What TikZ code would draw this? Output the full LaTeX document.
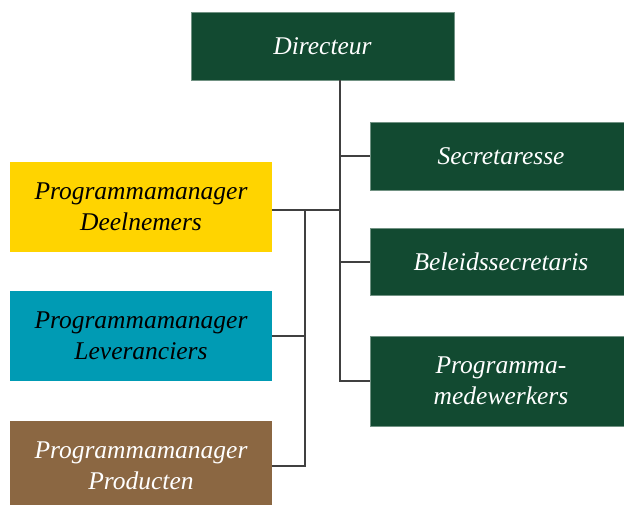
\documentclass[tikz,border=0pt]{standalone}
\usepackage{fontspec}
\setmainfont{Liberation Serif}
\usepackage{tikz}
\usetikzlibrary{positioning}
\definecolor{dirgreen}{HTML}{124A31}
\definecolor{pmyellow}{HTML}{FFD400}
\definecolor{pmteal}{HTML}{009BB4}
\definecolor{pmbrown}{HTML}{8B6742}
\tikzset{
  orgbox/.style={rectangle, minimum width=262pt, inner sep=0pt, align=center,
    font=\fontsize{25.5}{31}\selectfont\itshape},
  greenbox/.style={orgbox, fill=dirgreen, draw=dirgreen!60!white, line width=0.6pt, text=white},
  orgline/.style={draw=black!75, line width=1.4pt}
}

\begin{document}
\begin{tikzpicture}[x=1pt, y=-1pt]
            \clip (0,0) rectangle (624,504);
            \fill[white] (0,0) rectangle (624,504);
            % Top
            \node[greenbox, minimum width=263pt, minimum height=68pt] (dir) at (322.5,46) {Directeur};
            % Staff on the right
            \node[greenbox, minimum height=68pt] (sec) at (501,156) {Secretaresse};
            \node[greenbox, minimum height=67pt] (bel) at (501,262) {Beleidssecretaris};
            \node[greenbox, minimum height=90pt] (prm) at (501,381) {Programma-\\medewerkers};
            % Programme managers on the left
            \node[orgbox, fill=pmyellow, minimum height=90pt] (pmd) at (141,207) {Programmamanager\\Deelnemers};
            \node[orgbox, fill=pmteal, minimum height=90pt] (pml) at (141,336) {Programmamanager\\Leveranciers};
            \node[orgbox, fill=pmbrown, text=white, minimum height=90pt] (pmp) at (141,466) {Programmamanager\\Producten};
            % Lines
            \coordinate (trunk) at (340,80);
            \coordinate (fork) at (305,210);
            \draw[orgline] (trunk) |- (sec.west);
            \draw[orgline] (trunk) |- (bel.west);
            \draw[orgline] (trunk) |- (prm.west);
            \draw[orgline] (trunk) |- (pmd.east |- fork);
            \draw[orgline] (fork) |- (pml.east);
            \draw[orgline] (fork) |- (pmp.east);
        \end{tikzpicture}
\end{document}
